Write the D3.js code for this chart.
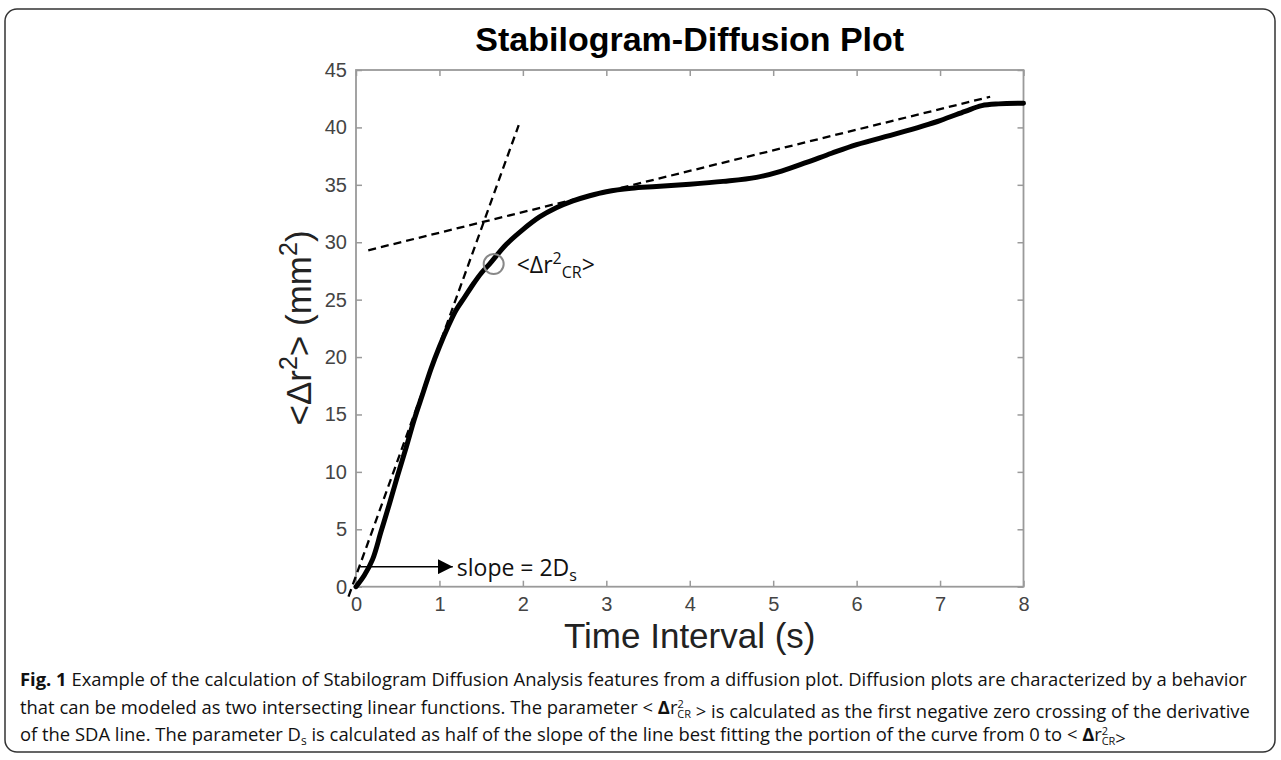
<!DOCTYPE html>
<html>
<head>
<meta charset="utf-8">
<script src="https://cdn.jsdelivr.net/npm/d3@7"></script>
<style>
  body { margin: 0; background: #fff; }
  svg { display: block; }
</style>
</head>
<body>
<div id="chart"></div>
<script>
// diffusion curve
var timeVals = [0, 0.1, 0.2, 0.3, 0.4, 0.5, 0.6, 0.7, 0.8, 0.9, 1.0, 1.1, 1.2, 1.3, 1.4, 1.5, 1.6, 1.8, 2.0, 2.2, 2.4, 2.6, 2.8, 3.0, 3.3, 3.6, 4.0, 4.4, 4.8, 5.1, 5.4, 5.7, 6.0, 6.5, 7.0, 7.3, 7.5, 7.7, 8.0];
var msdVals  = [0, 1.0, 2.4, 4.8, 7.2, 9.7, 12.1, 14.6, 16.8, 19.0, 20.9, 22.6, 24.1, 25.2, 26.3, 27.3, 28.1, 29.8, 31.1, 32.2, 33.0, 33.6, 34.05, 34.4, 34.7, 34.85, 35.05, 35.3, 35.65, 36.2, 36.95, 37.75, 38.5, 39.5, 40.6, 41.4, 41.9, 42.05, 42.1];

// fitted lines (short-term and long-term region)
var shortFitT = [-0.09, 1.95];
var shortFitY = [-0.87, 40.2];
var longFitT = [0.147, 7.60];
var longFitY = [29.3, 42.67];

// critical point and slope arrow
var critPoint = [1.65, 28.1];
var arrowT = [0.05, 1.16];
var arrowY = 1.74;

var xTicks = [0, 1, 2, 3, 4, 5, 6, 7, 8];
var yTicks = [0, 5, 10, 15, 20, 25, 30, 35, 40, 45];

var W = 1281, H = 760;
var margin = {top: 70, left: 356, right: W - 1023.5, bottom: H - 586.7};
var width = W - margin.left - margin.right,
    height = H - margin.top - margin.bottom;

var svg = d3.select("#chart").append("svg")
    .attr("width", W)
    .attr("height", H);

// outer figure frame
svg.append("rect")
    .attr("x", 5).attr("y", 9)
    .attr("width", 1270).attr("height", 743)
    .attr("rx", 12)
    .attr("fill", "none")
    .attr("stroke", "#333")
    .attr("stroke-width", 1.5);

var x = d3.scaleLinear().domain([0, 8]).range([0, width]);
var y = d3.scaleLinear().domain([0, 45]).range([height, 0]);

var g = svg.append("g")
    .attr("transform", "translate(" + margin.left + "," + margin.top + ")");

var axisColor = "#9a9a9a", labelColor = "#444";

function styleAxis(sel) {
    sel.select(".domain").remove();
    sel.selectAll(".tick line").attr("stroke", axisColor).attr("stroke-width", 1.5);
    sel.selectAll(".tick text")
        .attr("fill", labelColor)
        .style("font-family", "'Liberation Sans', Arial, sans-serif")
        .style("font-size", "20px");
}

g.append("g")
    .attr("transform", "translate(0," + height + ")")
    .call(d3.axisBottom(x).tickValues(xTicks).tickSize(-6).tickPadding(10))
    .call(styleAxis);

g.append("g")
    .call(d3.axisTop(x).tickValues(xTicks).tickSize(-6).tickFormat(""))
    .call(styleAxis);

g.append("g")
    .call(d3.axisLeft(y).tickValues(yTicks).tickSize(-6).tickPadding(9))
    .call(styleAxis);

g.append("g")
    .attr("transform", "translate(" + width + ",0)")
    .call(d3.axisRight(y).tickValues(yTicks).tickSize(-6).tickFormat(""))
    .call(styleAxis);

// axes box
g.append("rect")
    .attr("width", width).attr("height", height)
    .attr("fill", "none")
    .attr("stroke", axisColor)
    .attr("stroke-width", 1.8);

// dashed fits
var fitLine = d3.line().x(function(d) { return x(d[0]); }).y(function(d) { return y(d[1]); });

[[shortFitT, shortFitY], [longFitT, longFitY]].forEach(function(f) {
    g.append("path")
        .datum(d3.zip(f[0], f[1]))
        .attr("d", fitLine)
        .attr("fill", "none")
        .attr("stroke", "#000")
        .attr("stroke-width", 2.3)
        .attr("stroke-dasharray", "8,5");
});

// main curve
var curve = d3.line()
    .x(function(d) { return x(d[0]); })
    .y(function(d) { return y(d[1]); })
    .curve(d3.curveCatmullRom);

g.append("path")
    .datum(d3.zip(timeVals, msdVals))
    .attr("d", curve)
    .attr("fill", "none")
    .attr("stroke", "#000")
    .attr("stroke-width", 5)
    .attr("stroke-linecap", "round");

// critical point marker
g.append("circle")
    .attr("cx", x(critPoint[0]))
    .attr("cy", y(critPoint[1]))
    .attr("r", 10)
    .attr("fill", "none")
    .attr("stroke", "#888")
    .attr("stroke-width", 2);

var annoFont = "'Open Sans', Calibri, sans-serif";

var crLabel = g.append("text")
    .attr("x", x(critPoint[0]) + 23)
    .attr("y", y(critPoint[1]) + 9)
    .style("font-family", annoFont)
    .style("font-size", "23px")
    .attr("fill", "#111");
crLabel.append("tspan").text("<Δr");
crLabel.append("tspan").text("2").attr("dy", -9).style("font-size", "16px");
crLabel.append("tspan").text("CR").attr("dy", 14).style("font-size", "16px");
crLabel.append("tspan").text(">").attr("dy", -5);

// slope arrow
svg.append("defs").append("marker")
    .attr("id", "arrowhead")
    .attr("viewBox", "0 0 10 10")
    .attr("refX", 10).attr("refY", 5)
    .attr("markerWidth", 15).attr("markerHeight", 15)
    .attr("markerUnits", "userSpaceOnUse")
    .attr("orient", "auto")
  .append("path")
    .attr("d", "M0,0L10,5L0,10Z")
    .attr("fill", "#000");

g.append("line")
    .attr("x1", x(arrowT[0])).attr("x2", x(arrowT[1]))
    .attr("y1", y(arrowY)).attr("y2", y(arrowY))
    .attr("stroke", "#000")
    .attr("stroke-width", 1.5)
    .attr("marker-end", "url(#arrowhead)");

var slopeLabel = g.append("text")
    .attr("x", x(arrowT[1]) + 4)
    .attr("y", y(arrowY) + 9)
    .style("font-family", annoFont)
    .style("font-size", "23px")
    .attr("fill", "#111");
slopeLabel.append("tspan").text("slope = 2D");
slopeLabel.append("tspan").text("s").attr("dy", 5).style("font-size", "16px");

// titles
var cx = margin.left + width / 2;

svg.append("text")
    .attr("x", cx).attr("y", 51)
    .attr("text-anchor", "middle")
    .style("font-family", "'Liberation Sans', Arial, sans-serif")
    .style("font-weight", "bold")
    .style("font-size", "34px")
    .text("Stabilogram-Diffusion Plot");

svg.append("text")
    .attr("x", cx).attr("y", 648)
    .attr("text-anchor", "middle")
    .attr("fill", "#222")
    .style("font-family", "'Liberation Sans', Arial, sans-serif")
    .style("font-size", "35px")
    .text("Time Interval (s)");

var yLab = svg.append("text")
    .attr("transform", "translate(311,328) rotate(-90)")
    .attr("text-anchor", "middle")
    .attr("fill", "#222")
    .style("font-family", "'Liberation Sans', Arial, sans-serif")
    .style("font-size", "35px");
yLab.append("tspan").text("<Δr");
yLab.append("tspan").text("2").attr("dy", -14).style("font-size", "25px");
yLab.append("tspan").text("> (mm").attr("dy", 14);
yLab.append("tspan").text("2").attr("dy", -14).style("font-size", "25px");
yLab.append("tspan").text(")").attr("dy", 14);

// caption
var capFont = "'Open Sans', sans-serif";
var capSize = 18.4;
var capLines = svg.append("g")
    .style("font-family", capFont)
    .style("font-size", capSize + "px")
    .attr("fill", "#111");

var l1 = capLines.append("text").attr("x", 20).attr("y", 686);
l1.append("tspan").text("Fig. 1").style("font-weight", "bold");
l1.append("tspan").text(" Example of the calculation of Stabilogram Diffusion Analysis features from a diffusion plot. Diffusion plots are characterized by a behavior");

function crTerm(t) {
    t.append("tspan").text("Δ").style("font-weight", "bold");
    t.append("tspan").text("r");
    t.append("tspan").text("2").attr("dy", -6).style("font-size", "11px");
    t.append("tspan").text("CR").attr("dx", -6.5).attr("dy", 10).style("font-size", "11px");
    t.append("tspan").text("").attr("dy", -4);
}

var l2 = capLines.append("text").attr("x", 20).attr("y", 714);
l2.append("tspan").text("that can be modeled as two intersecting linear functions. The parameter < ");
crTerm(l2);
l2.append("tspan").text(" > is calculated as the first negative zero crossing of the derivative");

var l3 = capLines.append("text").attr("x", 20).attr("y", 741);
l3.append("tspan").text("of the SDA line. The parameter D");
l3.append("tspan").text("s").attr("dy", 4).style("font-size", "12px");
l3.append("tspan").text(" is calculated as half of the slope of the line best fitting the portion of the curve from 0 to < ").attr("dy", -4);
crTerm(l3);
l3.append("tspan").text(">");
</script>
</body>
</html>
